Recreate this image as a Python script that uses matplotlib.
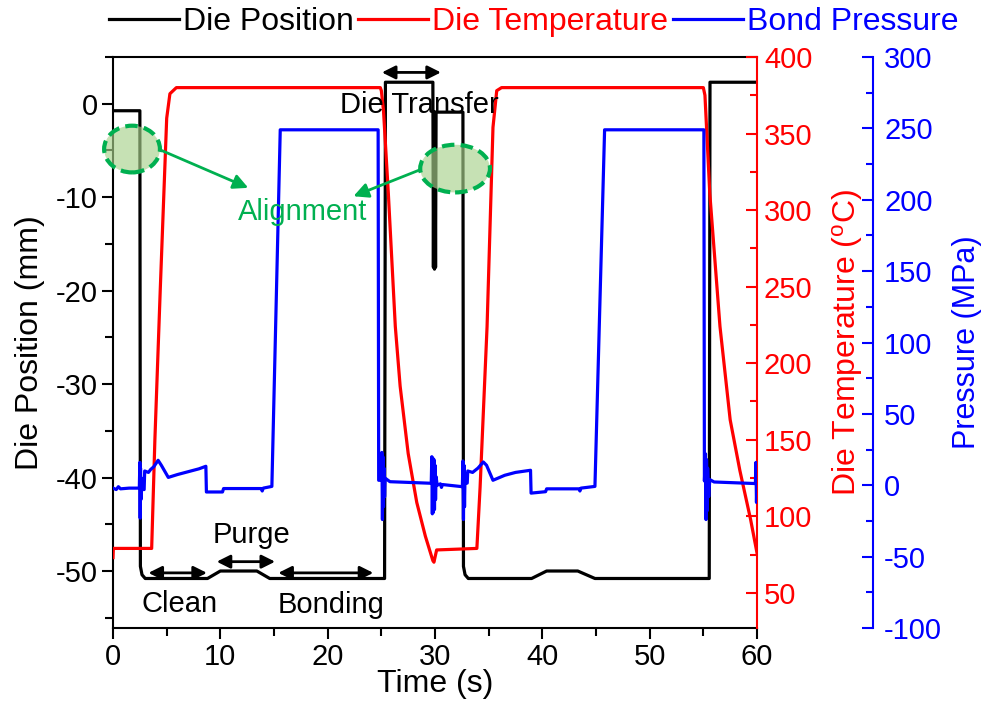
import matplotlib
matplotlib.use("Agg")
import matplotlib.pyplot as plt
from matplotlib.patches import Ellipse
from matplotlib.ticker import MultipleLocator

plt.rcParams['font.family'] = ['Liberation Sans', 'DejaVu Sans']
plt.rcParams['mathtext.fontset'] = 'custom'
plt.rcParams['mathtext.rm'] = 'Liberation Sans'
plt.rcParams['mathtext.default'] = 'regular'
plt.rcParams['axes.unicode_minus'] = False

# die position (mm) vs time (s)
pos_t = [0, 2.5, 2.55, 2.7, 3.0, 8.8, 10.0, 13.4, 14.6, 25.3, 25.38, 29.8, 29.85, 29.9, 29.95,
         30.0, 30.05, 30.1, 32.6, 32.65, 32.8, 33.1, 39.0, 40.4, 43.3, 44.9, 55.55, 55.62, 60]
pos_v = [-0.75, -0.75, -49.5, -50.4, -50.8, -50.8, -50.0, -50.0, -50.8, -50.8, 2.3, 2.3, -17.5, -0.9, -17.7,
         -0.9, -17.5, -0.9, -0.9, -49.5, -50.4, -50.8, -50.8, -50.0, -50.0, -50.8, -50.8, 2.3, 2.3]

# die temperature (C)
temp_t = [0, 0.03, 3.6, 3.9, 4.4, 5.0, 5.3, 5.9, 24.9, 25.0, 25.2, 25.65, 26.3, 26.75, 27.5, 28.3, 29.1,
          29.8, 29.9, 30.15, 33.9, 34.2, 34.85, 35.4, 35.75, 36.2, 55.0, 55.15, 55.6, 56.55, 57.5, 58.4,
          59.4, 60.0]
temp_v = [73, 79, 79, 150, 248, 360, 376, 380, 380, 378, 365, 311, 224, 185, 141, 109, 87,
          71, 70, 78, 79, 119, 224, 354, 378, 380, 380, 375, 311, 224, 163, 130,
          98, 76]

# bond pressure (MPa)
pres_t = [0, 0.3, 0.5, 0.7, 1.5, 2.45, 2.5, 2.53, 2.56, 2.6, 2.65, 2.75, 2.9, 2.95, 3.3, 3.5, 3.8, 4.2,
          4.5, 5.15, 6.0, 7.0, 8.0, 8.65, 8.7, 10.2, 10.3, 13.8, 13.9, 14.0, 14.8, 15.58, 24.7, 24.75,
          25.0, 25.05, 25.1, 25.15, 25.2, 25.25, 25.3, 25.35, 25.8, 29.65, 29.7, 29.75, 29.8, 29.85,
          29.9, 29.95, 30.0, 30.05, 30.1, 30.2, 30.5, 30.6, 30.7, 32.55, 32.6, 32.65, 32.7, 32.75,
          32.8, 32.9, 33.0, 33.05, 33.5, 34.0, 34.5, 34.8, 35.4, 36.5, 37.5, 38.9, 38.95, 40.3, 40.4,
          43.4, 43.5, 43.6, 44.9, 45.8, 55.05, 55.1, 55.2, 55.25, 55.3, 55.35, 55.4, 55.5, 55.6, 56.0,
          59.85, 59.9, 59.95, 60.0]
pres_v = [-2, -3, -1, -2.5, -2, -2, 16, -23, 12, -10, 5, -3, -3, 10, 9, 11, 13, 17.5,
          14, 5.5, 7.5, 9.5, 11.5, 13.3, -4.7, -4.7, -2.3, -2.3, -4, -2, -0.8, 249, 249, 3.5,
          3.5, 23, -24, 20, -15, 12, -8, 5, 2.5, 1.4, 20, -20, 19, -19,
          18, -17, 14, -10, 6, 0, 1, -1.5, 0.5, -1, 17, -24, 14, -15,
          8, 1.5, 1.5, 10, 9, 12, 16.3, 14, 3.5, 7, 9, 10.5, -5.5, -4.5, -2.5,
          -2.5, -4, -2, -0.8, 249, 249, 3, 22, -24, 18, -18, 12, -8, 4, 2.3,
          1.2, 16, -12, 4]

green = '#00b050'

fig = plt.figure(figsize=(9.88, 7.17), dpi=100)
ax = fig.add_axes([0.1144, 0.1241, 0.6518, 0.7964])
ax2 = ax.twinx()
ax3 = ax.twinx()

l1, = ax.plot(pos_t, pos_v, color='black', lw=2.3)
l2, = ax2.plot(temp_t, temp_v, color='#ff0000', lw=2.3)
l3, = ax3.plot(pres_t, pres_v, color='#0000ff', lw=2.3)

ax.set_xlim(0, 60)
ax.set_ylim(-56.1, 5.0)
ax2.set_ylim(27, 400)
ax3.set_ylim(-100, 300)

ax.xaxis.set_major_locator(MultipleLocator(10))
ax.xaxis.set_minor_locator(MultipleLocator(5))
ax.yaxis.set_major_locator(MultipleLocator(10))
ax.yaxis.set_minor_locator(MultipleLocator(5))
ax2.yaxis.set_major_locator(MultipleLocator(50))
ax2.yaxis.set_minor_locator(MultipleLocator(25))
ax3.yaxis.set_major_locator(MultipleLocator(50))
ax3.yaxis.set_minor_locator(MultipleLocator(25))

for s in ax.spines.values():
    s.set_linewidth(1.5)
ax.spines['right'].set_visible(False)
ax.tick_params(axis='both', which='major', direction='out', length=8, width=1.5, labelsize=21, pad=3)
ax.tick_params(axis='both', which='minor', direction='out', length=6, width=1.5)
ax.tick_params(top=False, right=False, which='both')

for s in ['left', 'top', 'bottom']:
    ax2.spines[s].set_visible(False)
    ax3.spines[s].set_visible(False)
ax2.spines['right'].set_color('#ff0000')
ax2.spines['right'].set_linewidth(1.5)
ax2.tick_params(axis='y', which='major', direction='in', length=8, width=1.5, colors='#ff0000',
                labelsize=21, pad=5)
ax2.tick_params(axis='y', which='minor', direction='in', length=5, width=1.5, colors='#ff0000')

ax3.spines['right'].set_position(('outward', 83.5))
ax3.spines['right'].set_color('#0000ff')
ax3.spines['right'].set_linewidth(1.5)
ax3.tick_params(axis='y', which='major', direction='in', length=8, width=1.5, colors='#0000ff',
                labelsize=21, pad=8)
ax3.tick_params(axis='y', which='minor', direction='in', length=5, width=1.5, colors='#0000ff')

ax.set_xlabel('Time (s)', fontsize=23)
ax.set_ylabel('Die Position (mm)', fontsize=23)
ax2.set_ylabel('Die Temperature ($^{o}$C)', fontsize=23, color='#ff0000')
ax3.set_ylabel('Pressure (MPa)', fontsize=22, color='#0000ff')
ax.xaxis.set_label_coords(0.5, -0.072)
ax.yaxis.set_label_coords(-0.106, 0.5)
ax2.yaxis.set_label_coords(1.113, 0.5)
ax3.yaxis.set_label_coords(1.303, 0.5)

# annotations, drawn on the top axes in data coords of the position axis
tr = ax.transData
for (cx, cy, w, h) in [(1.77, -4.85, 5.2, 5.0), (31.87, -6.94, 6.5, 5.1)]:
    e = Ellipse((cx, cy), w, h, transform=tr, facecolor=(0.66, 0.82, 0.55, 0.65),
                edgecolor=green, lw=3, ls=(0, (3, 1.5)), clip_on=False, zorder=5)
    ax3.add_patch(e)

ax3.annotate('', xy=(12.6, -9.0), xytext=(4.38, -4.93), xycoords=tr, textcoords=tr,
             arrowprops=dict(arrowstyle='-|>', color=green, lw=2, mutation_scale=22, shrinkA=0, shrinkB=0))
ax3.annotate('', xy=(22.4, -9.9), xytext=(28.6, -7.07), xycoords=tr, textcoords=tr,
             arrowprops=dict(arrowstyle='-|>', color=green, lw=2, mutation_scale=22, shrinkA=0, shrinkB=0))
ax3.text(17.7, -12.4, 'Alignment', transform=tr, color=green, fontsize=21, ha='center', va='baseline')

arrows = [(25.05, 30.55, 3.35), (3.3, 8.75, -50.2), (9.66, 15.1, -49.0), (15.4, 24.25, -50.2)]
for (x0, x1, y) in arrows:
    ax3.annotate('', xy=(x1, y), xytext=(x0, y), xycoords=tr, textcoords=tr,
                 arrowprops=dict(arrowstyle='<|-|>', color='black', lw=2, mutation_scale=20,
                                 shrinkA=0, shrinkB=0))

labels = [(28.5, -1.0, 'Die Transfer'), (6.24, -54.4, 'Clean'), (12.9, -47.0, 'Purge'),
          (20.3, -54.5, 'Bonding')]
for (x, y, s) in labels:
    ax3.text(x, y, s, transform=tr, fontsize=21, ha='center', va='baseline', color='black')

ax3.set_ylim(-100, 300)

leg = fig.legend([l1, l2, l3], ['Die Position', 'Die Temperature', 'Bond Pressure'],
                 loc='center', bbox_to_anchor=(0.54, 0.969), ncol=3, frameon=False, fontsize=23,
                 handlelength=2.2, handletextpad=0.13, columnspacing=0.13)
for txt, c in zip(leg.get_texts(), ['black', '#ff0000', '#0000ff']):
    txt.set_color(c)

fig.savefig('out.png', dpi=100)
